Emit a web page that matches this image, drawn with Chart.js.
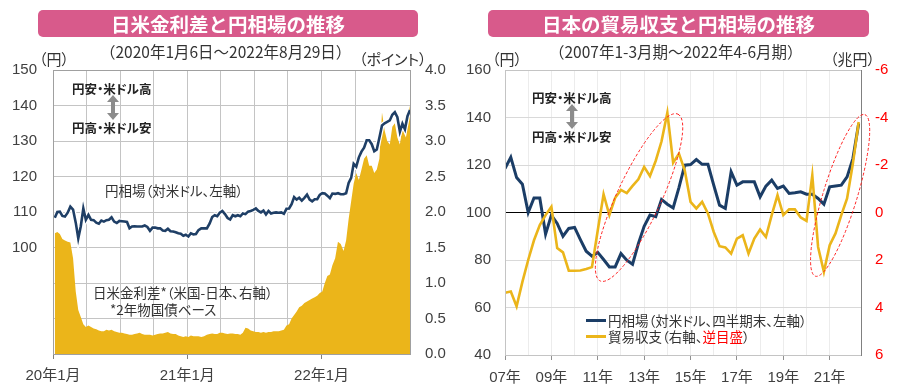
<!DOCTYPE html>
<html><head><meta charset="utf-8">
<script src="https://cdn.jsdelivr.net/npm/chart.js@4.4.1/dist/chart.umd.min.js"></script>
<style>
html,body{margin:0;padding:0;background:#fff;}
#wrap{position:relative;width:900px;height:390px;overflow:hidden;font-family:"Noto Sans CJK JP","Noto Sans",sans-serif;color:#262626;}
canvas{position:absolute;top:0;}
.t{position:absolute;white-space:nowrap;line-height:1;}
.title{position:absolute;top:10px;height:27px;background:#d85a8b;border-radius:5px;color:#fff;font-weight:bold;font-size:19.5px;text-align:center;line-height:27px;}
.sub{font-size:15.5px;color:#333;}
.unit{font-size:15px;color:#333;font-feature-settings:"palt";}
.ann{font-size:12.5px;font-weight:bold;color:#222;font-feature-settings:"palt";}
.lab{font-size:13.5px;color:#333;font-feature-settings:"palt";}
</style></head>
<body><div id="wrap">
<canvas id="c1" width="450" height="390" style="left:0"></canvas>
<canvas id="c2" width="450" height="390" style="left:450px"></canvas>

<div class="title" style="left:38px;width:380px;">日米金利差と円相場の推移</div>
<div class="title" style="left:488px;width:381px;">日本の貿易収支と円相場の推移</div>
<div class="t sub" style="left:100px;top:44px;">（2020年1月6日～2022年8月29日）</div>
<div class="t sub" style="left:549px;top:44px;">（2007年1-3月期～2022年4-6月期）</div>
<div class="t unit" style="left:39px;top:51px;">（円）</div>
<div class="t unit" style="left:359px;top:51px;">（ポイント）</div>
<div class="t unit" style="left:492px;top:51px;">（円）</div>
<div class="t unit" style="left:830px;top:51px;">（兆円）</div>

<div class="t ann" style="left:72px;top:83px;">円安・米ドル高</div>
<div class="t ann" style="left:72px;top:122px;">円高・米ドル安</div>
<div class="t ann" style="left:532px;top:92px;">円安・米ドル高</div>
<div class="t ann" style="left:532px;top:131px;">円高・米ドル安</div>
<svg style="position:absolute;left:106px;top:95px" width="14" height="25"><polygon points="7,0 13,7 9,7 9,18 13,18 7,25 1,18 5,18 5,7 1,7" fill="#8c8c8c"/></svg>
<svg style="position:absolute;left:565px;top:104px" width="14" height="25"><polygon points="7,0 13,7 9,7 9,18 13,18 7,25 1,18 5,18 5,7 1,7" fill="#8c8c8c"/></svg>

<div class="t lab" style="left:105px;top:184px;">円相場（対米ドル、左軸）</div>
<div class="t lab" style="left:93px;top:286px;">日米金利差*（米国-日本、右軸）</div>
<div class="t lab" style="left:110px;top:303px;">*2年物国債ベース</div>

<div style="position:absolute;left:586px;top:319px;width:20px;height:3px;background:#1b3d66"></div>
<div class="t lab" style="left:608px;top:314px;">円相場（対米ドル、四半期末、左軸）</div>
<div style="position:absolute;left:586px;top:335px;width:20px;height:3px;background:#ebb51a"></div>
<div class="t lab" style="left:608px;top:330px;">貿易収支（右軸、<span style="color:#ff0000">逆目盛</span>）</div>
</div>
<script>
// ---------- Left chart data (weekly, Mondays from 2020-01-06 to 2022-08-29) ----------
const weekStart = '2020-01-06';
const yenWeekly = [
108.4,110.0,110.1,108.9, 108.7,109.8,111.5,110.7, 107.0,102.6,106.0,111.0,107.8,
109.2,107.8,107.7,107.0, 106.7,107.6,107.3,107.7, 107.8,108.5,107.3,106.9,107.5,
107.4,107.3,107.2,105.4, 105.9,106.0,105.9,105.9,105.9, 106.2,105.8,104.7,105.6,
105.6,105.4,105.4,104.8, 104.7,105.3,104.6,104.5,104.3, 104.0,103.9,103.3,103.6,
103.1,104.0,103.7,103.8, 104.9,105.4,105.4,105.4, 106.8,108.6,109.1,108.8,109.8,
110.3,109.4,108.3,107.9, 109.1,108.8,109.1,108.8,109.6, 109.4,110.1,110.3,110.6,
111.0,110.3,109.9,110.4, 109.3,110.3,109.6,109.8,109.9, 109.8,109.9,109.5,110.9,
111.0,112.2,114.2,113.5, 114.0,113.2,114.0,114.9,113.5, 113.0,113.6,113.6,114.8,
115.3,115.2,114.6,113.9,115.2, 115.1,115.3,115.0,115.0, 115.3,118.2,119.6,123.6,
122.8,125.4,127.0,128.1, 130.2,130.2,129.1,127.1,127.6, 130.9,134.4,135.0,135.4,
135.8,137.4,138.1,136.7, 132.6,134.9,133.3,137.0,138.7
];
const spreadWeekly = [
1.70,1.72,1.69,1.62, 1.60,1.58,1.57,1.35, 0.88,0.62,0.52,0.42,0.38,
0.40,0.38,0.36,0.35, 0.33,0.32,0.32,0.34, 0.33,0.34,0.32,0.31,0.30,
0.30,0.29,0.28,0.27, 0.27,0.28,0.29,0.30,0.28, 0.27,0.27,0.27,0.26,
0.27,0.28,0.29,0.29, 0.30,0.31,0.29,0.28,0.28, 0.26,0.25,0.24,0.25,
0.24,0.26,0.25,0.25, 0.25,0.24,0.25,0.27, 0.28,0.29,0.28,0.28,0.30,
0.30,0.29,0.28,0.29, 0.29,0.28,0.28,0.27,0.30, 0.37,0.36,0.33,0.32,
0.31,0.31,0.30,0.31, 0.30,0.31,0.31,0.32,0.32, 0.32,0.33,0.34,0.40,
0.42,0.50,0.55,0.60, 0.66,0.68,0.72,0.74,0.76, 0.78,0.80,0.82,0.86,
0.88,1.00,1.10,1.12,1.25, 1.35,1.58,1.55,1.45, 1.60,1.90,2.15,2.40,
2.55,2.45,2.60,2.75, 2.80,2.65,2.65,2.55,2.60, 2.75,3.40,3.15,3.00,
2.95,3.20,3.25,3.05, 2.95,3.20,3.25,3.30,3.50
];
const leftYenTicks = [100,110,120,130,140,150];

// ---------- Right chart data (quarterly, 2007 Q1 to 2022 Q2) ----------
const firstYear = 2007;
const yenQuarterEnd = [
118.5,123.2,114.7,111.9, 100.0,106.1,106.1,90.9, 98.9,95.4,90.0,93.3,
93.7,88.6,83.7,81.6, 83.2,80.2,77.1,77.1, 82.7,79.9,78.2,86.9,
94.2,98.9,98.2,105.5, 103.5,101.9,110.5,119.9, 120.2,122.3,120.3,120.3,
111.5,103.1,101.7,117.1, 111.5,112.9,112.9,112.9, 106.6,111.1,113.6,110.1,
111.1,108.0,108.3,108.7, 107.7,107.7,105.9,103.5, 110.8,111.2,111.5,115.0,
122.7,137.5
];
const tradeBalance = [
3.38,3.33,3.95,2.92, 2.00,1.17,0.53,0.11, -0.24,1.50,1.68,2.45,
2.45,2.44,2.38,2.30, 0.75,-0.77,0.11,-0.62, -0.95,-0.82,-1.12,-1.40,
-1.92,-1.53,-2.18,-3.00, -4.20,-2.10,-2.48,-1.78, -0.45,-0.17,-0.45,0.04,
0.82,1.42,1.47,1.73, 1.10,0.96,1.73,1.10, 0.72,1.03,0.11,-0.73,
0.11,-0.13,-0.13,0.21, 0.35,-1.57,1.45,2.50, 1.38,0.88,0.11,-0.59,
-2.06,-3.81
];
// highlighted periods (center in data units)
const highlightCenters = [{x:2012.78,y:106.3},{x:2021.45,y:107.2}];

// ---------- helpers ----------
function monthVal(d){
  const y=d.getUTCFullYear(), m=d.getUTCMonth();
  const dim=new Date(Date.UTC(y,m+1,0)).getUTCDate();
  return (y-2020)*12+m+(d.getUTCDate()-1)/dim;
}
const t0=new Date(weekStart+'T00:00:00Z').getTime();
const weekX = yenWeekly.map((_,i)=>monthVal(new Date(t0+i*7*86400000)));
const lastX = weekX[weekX.length-1];

const numFont={family:'"Liberation Sans", Arial, "Noto Sans CJK JP"',size:15};
const tickCol='#404040';

const borderPlugin=(col,rightCol)=>({id:'bx',afterDatasetsDraw(ch){
  const a=ch.chartArea,c=ch.ctx;c.save();c.lineWidth=1;c.strokeStyle=col;
  c.strokeRect(Math.round(a.left)+0.5,Math.round(a.top)+0.5,Math.round(a.right-a.left),Math.round(a.bottom-a.top));
  if(rightCol){c.strokeStyle=rightCol;c.beginPath();c.moveTo(Math.round(a.right)+0.5,a.top);c.lineTo(Math.round(a.right)+0.5,a.bottom+1);c.stroke();}
  c.restore();}});

// ---------- Left chart ----------
new Chart(document.getElementById('c1'),{
  type:'line',
  data:{datasets:[
    {data:yenWeekly.map((v,i)=>({x:weekX[i],y:v})),yAxisID:'y',borderColor:'#1f3f66',borderWidth:2.6,pointRadius:0,tension:0,order:1},
    {data:yenWeekly.map((v,i)=>({x:weekX[i],y:v})),yAxisID:'y',borderColor:'#ffffff',borderWidth:5,pointRadius:0,tension:0,order:2},
    {data:spreadWeekly.map((v,i)=>({x:weekX[i],y:v})),yAxisID:'y1',borderWidth:0,borderColor:'#ebb51a',backgroundColor:'#ebb51a',fill:'origin',pointRadius:0,tension:0,order:3}
  ]},
  options:{responsive:false,animation:false,devicePixelRatio:1,
    layout:{padding:{top:70,left:0,right:0,bottom:0}},
    plugins:{legend:{display:false},tooltip:{enabled:false}},
    scales:{
      x:{type:'linear',min:0,max:lastX,
        afterFit(s){s.height=36;},
        ticks:{stepSize:3,autoSkip:false,maxRotation:0,padding:8,color:tickCol,font:{...numFont},
          callback(v){return (Number.isInteger(v)&&v%12===0)?(20+v/12)+'年1月':'';}},
        grid:{color:'#c4c4c4',tickLength:5,tickColor(ctx){const v=ctx.tick&&ctx.tick.value;return (Number.isInteger(v)&&v%12===0)?'#808080':'rgba(0,0,0,0)';}},
        border:{display:false}},
      y:{position:'left',min:70,max:150,
        afterFit(s){s.width=53;},
        ticks:{stepSize:10,padding:16,color:tickCol,font:{...numFont},callback(v){return leftYenTicks.includes(v)?String(v):'';}},
        grid:{color:'#c4c4c4',drawTicks:false},border:{display:false}},
      y1:{position:'right',min:0,max:4,
        afterFit(s){s.width=40;},
        ticks:{stepSize:0.5,padding:15,color:tickCol,font:{...numFont},callback(v){return v.toFixed(1);}},
        grid:{drawOnChartArea:false,drawTicks:false},border:{display:false}}
    }},
  plugins:[borderPlugin('#a0a0a0')]
});

// ---------- Right chart ----------
const qx=i=>firstYear+i/4;
const ellipsePlugin={id:'ell',afterDraw(ch){
  const c=ch.ctx,xs=ch.scales.x,ys=ch.scales.y;
  const dims=[[92,22,-65],[84.5,17,-73]];
  c.save();c.strokeStyle='#ff2020';c.lineWidth=1;c.setLineDash([3,2]);
  highlightCenters.forEach((h,k)=>{const [a,b,r]=dims[k];c.beginPath();
    c.ellipse(xs.getPixelForValue(h.x),ys.getPixelForValue(h.y),a,b,r*Math.PI/180,0,Math.PI*2);c.stroke();});
  c.restore();}};

new Chart(document.getElementById('c2'),{
  type:'line',
  data:{datasets:[
    {data:tradeBalance.map((v,i)=>({x:qx(i),y:v})),yAxisID:'y1',borderColor:'#ebb51a',borderWidth:2.6,pointRadius:0,tension:0,order:1},
    {data:yenQuarterEnd.map((v,i)=>({x:qx(i),y:v})),yAxisID:'y',borderColor:'#1b3d66',borderWidth:3,pointRadius:0,tension:0,order:2}
  ]},
  options:{responsive:false,animation:false,devicePixelRatio:1,
    layout:{padding:{top:70,left:0,right:0,bottom:0}},
    plugins:{legend:{display:false},tooltip:{enabled:false}},
    scales:{
      x:{type:'linear',min:firstYear,max:2022.35,
        afterFit(s){s.height=35;},
        ticks:{stepSize:1,autoSkip:false,maxRotation:0,padding:9,color:tickCol,font:{...numFont},
          callback(v){return (Number.isInteger(v)&&v%2===1)?String(v%100).padStart(2,'0')+'年':'';}},
        grid:{color:'#ececec',tickLength:5,tickColor(ctx){const v=ctx.tick&&ctx.tick.value;return (Number.isInteger(v)&&v%2===1)?'#909090':'rgba(0,0,0,0)';}},
        border:{display:false}},
      y:{position:'left',min:40,max:160,
        afterFit(s){s.width=55;},
        ticks:{stepSize:20,padding:14,color:tickCol,font:{...numFont}},
        grid:{color(ctx){return ctx.tick&&ctx.tick.value===100?'#000000':'#d9d9d9';},drawTicks:false},border:{display:false}},
      y1:{position:'right',min:-6,max:6,reverse:true,
        afterFit(s){s.width=39;},
        ticks:{stepSize:2,padding:14,color:'#ff0000',font:{...numFont}},
        grid:{drawOnChartArea:false,drawTicks:false},border:{display:false}}
    }},
  plugins:[borderPlugin('#c4c4c4','#808080'),ellipsePlugin]
});
</script>
</body></html>
